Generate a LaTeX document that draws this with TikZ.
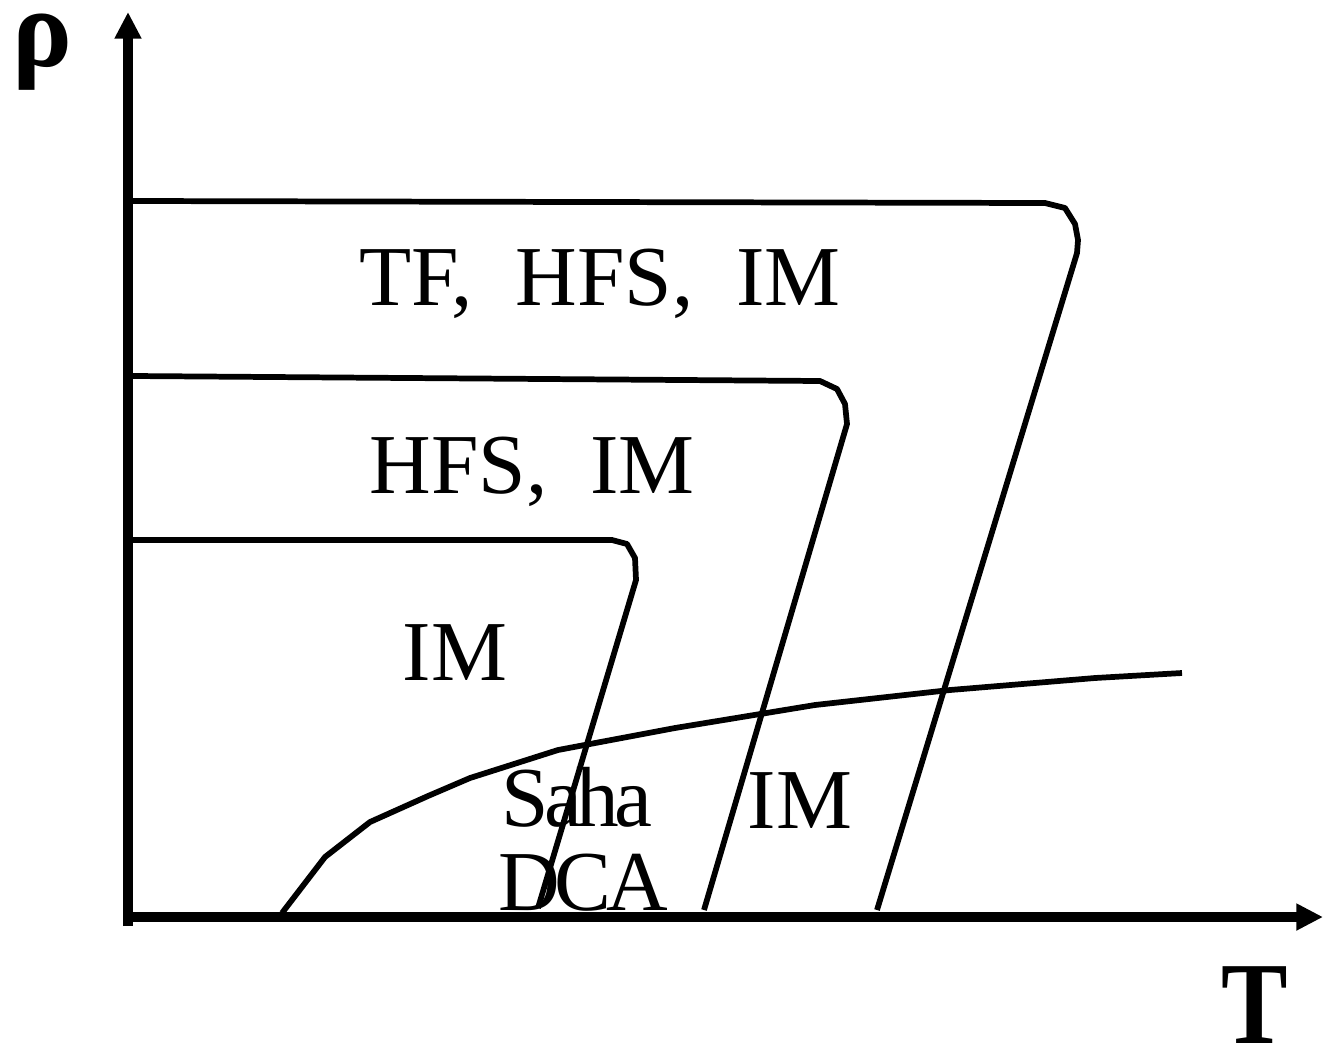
\documentclass[tikz,border=0pt]{standalone}
\usepackage{fontspec}
\setmainfont{Liberation Serif}
\usetikzlibrary{arrows.meta}
\begin{document}
\begin{tikzpicture}[x=0.75pt,y=-0.75pt,
  axis/.style={line width=6.8pt,-{Triangle[width=19pt,length=20pt]}},
  curve/.style={line width=4.3pt,line join=round},
  lbl/.style={anchor=base,inner sep=0pt,font=\fontsize{64}{64}\selectfont},
  tight/.style={lbl,font=\fontsize{64}{64}\selectfont\addfontfeatures{LetterSpace=-6}}]
\useasboundingbox (0,0) rectangle (1323,1050);
\coordinate (Ybot) at (128,926);
\coordinate (Ytop) at (128,12);
\coordinate (Xleft) at (124,917);
\coordinate (Xright) at (1323,917);
\draw[axis] (Ybot) -- (Ytop);
\draw[axis] (Xleft) -- (Xright);
\node[inner sep=0pt,anchor=base,text height=0.46em,text depth=0.22em,font=\fontsize{84}{84}\selectfont\bfseries] (rho) at (42,66) {ρ};
\node[inner sep=0pt,anchor=base,text height=0.66em,text depth=0pt,font=\fontsize{88}{88}\selectfont\bfseries] (T) at (1255,1043) {\scalebox{0.85}[1]{T}};
% boundary curves
\draw[curve] (133,201) coordinate (a1) -- (1045,203) -- (1065,208) -- (1075,224) -- (1078,240) -- (1077,253) -- (877,910) coordinate (a2);
\draw[curve] (133,376) coordinate (b1) -- (820,381) -- (837,389) -- (845,404) -- (847,424) -- (704,910) coordinate (b2);
\draw[curve] (133,540) coordinate (c1) -- (612,540) -- (627,544) -- (635,558) -- (636,580) -- (538,908) coordinate (c2);
% Saha curve
\draw[curve] (282,913) coordinate (s1) -- (325,857) -- (370,822) -- (428,796) -- (470,778) -- (558,750) -- (675,728) -- (815,705) -- (950,690) -- (1095,678) -- (1182,673) coordinate (s2);
% labels
\node[lbl] (l1) at (600,305) {TF,\ \ HFS,\ \ IM};
\node[lbl] (l2) at (532,493) {HFS,\ \ IM};
\node[lbl] (l3) at (455,680) {IM};
\node[tight] (l4) at (577,826) {Saha};
\node[tight] (l5) at (583,910) {DCA};
\node[lbl] (l6) at (800,828) {IM};
\end{tikzpicture}
\end{document}
